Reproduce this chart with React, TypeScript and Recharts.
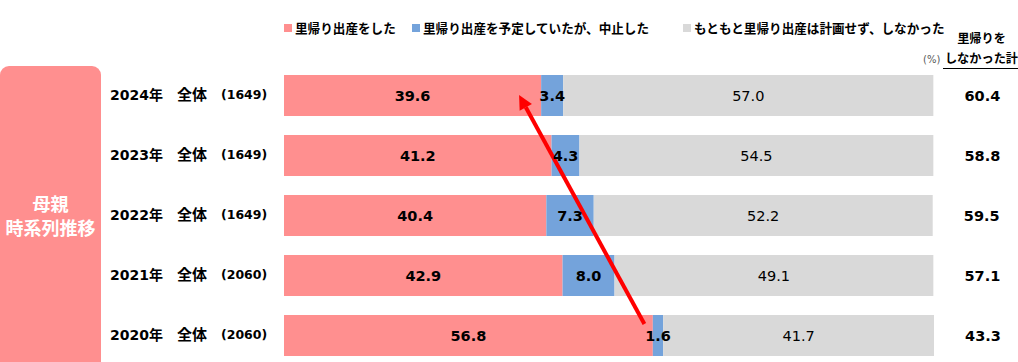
import React from 'react';
import { BarChart, Bar, XAxis, YAxis, LabelList, ReferenceLine } from 'recharts';

const years = ['2024年', '2023年', '2022年', '2021年', '2020年'];
const sampleSizes = ['1649', '1649', '1649', '2060', '2060'];
const didReturn = [39.6, 41.2, 40.4, 42.9, 56.8];
const plannedCancelled = [3.4, 4.3, 7.3, 8.0, 1.6];
const neverPlanned = [57.0, 54.5, 52.2, 49.1, 41.7];
const notReturnedTotal = [60.4, 58.8, 59.5, 57.1, 43.3];

const seriesNames = ['里帰り出産をした', '里帰り出産を予定していたが、中止した', 'もともと里帰り出産は計画せず、しなかった'];
const colors = ['#FF8F8F', '#74A3DB', '#D9D9D9'];

const data = years.map((y, i) => ({
  year: y,
  n: sampleSizes[i],
  a: didReturn[i],
  b: plannedCancelled[i],
  c: neverPlanned[i],
  total: notReturnedTotal[i],
}));

const FONT = '"DejaVu Sans", "Noto Sans CJK JP", sans-serif';
const JP = '"Noto Sans CJK JP", "DejaVu Sans", sans-serif';

const YTick = (props: any) => {
  const { y, payload, index } = props;
  const d = data[index] || data.find((r) => r.year === payload.value);
  return (
    <g>
      <text x={110} y={y} dy={5} fontFamily={FONT} fontWeight="bold" fontSize={14} fill="#000">
        {payload.value}
      </text>
      <text x={177} y={y} dy={5} fontFamily={JP} fontWeight="bold" fontSize={15} fill="#000">
        全体
      </text>
      <text x={221} y={y} dy={4} fontFamily={FONT} fontWeight="bold" fontSize={12.5} fill="#000">
        {`(${d ? d.n : ''})`}
      </text>
    </g>
  );
};

const centerLabel = (bold: boolean) => (props: any) => {
  const { x, y, width, height, value } = props;
  return (
    <text
      x={x + width / 2}
      y={y + height / 2}
      dy={5}
      textAnchor="middle"
      fontFamily={FONT}
      fontWeight={bold ? 'bold' : 'normal'}
      fontSize={14.5}
      fill="#000"
    >
      {Number(value).toFixed(1)}
    </text>
  );
};

const totalLabel = (props: any) => {
  const { x, y, width, height, index } = props;
  const v = data[index].total;
  return (
    <g>
      {centerLabel(false)(props)}
      <text
        x={x + width + 49}
        y={y + height / 2}
        dy={5}
        textAnchor="middle"
        fontFamily={FONT}
        fontWeight="bold"
        fontSize={14.5}
        fill="#000"
      >
        {v.toFixed(1)}
      </text>
    </g>
  );
};

const ArrowShape = (props: any) => {
  const { x1, y1, x2, y2 } = props;
  if ([x1, y1, x2, y2].some((v) => v === undefined || isNaN(v))) return null;
  const sy = y1 - 11;
  const dx = x2 - x1;
  const dy = y2 - sy;
  const len = Math.sqrt(dx * dx + dy * dy);
  const ux = dx / len;
  const uy = dy / len;
  const headLen = 14;
  const headW = 7;
  const bx = x2 - ux * headLen;
  const by = y2 - uy * headLen;
  const px = -uy;
  const py = ux;
  return (
    <g>
      <line x1={x1} y1={sy} x2={bx} y2={by} stroke="#FF0000" strokeWidth={4} />
      <polygon
        points={`${x2},${y2} ${bx + px * headW},${by + py * headW} ${bx - px * headW},${by - py * headW}`}
        fill="#FF0000"
      />
    </g>
  );
};

const legendX = [284, 412, 683];

export default function App() {
  return (
    <div style={{ position: 'absolute', left: 0, top: 0, width: 1018, height: 362, overflow: 'hidden', background: '#fff' }}>
      <div
        style={{
          position: 'absolute',
          left: 0,
          top: 66,
          width: 101,
          height: 320,
          background: '#FF8F8F',
          borderTopRightRadius: 9,
          borderTopLeftRadius: 9,
        }}
      />
      <div
        style={{
          position: 'absolute',
          left: 0,
          top: 191,
          width: 101,
          textAlign: 'center',
          color: '#fff',
          fontFamily: JP,
          fontWeight: 'bold',
          fontSize: 18,
          lineHeight: '24px',
          whiteSpace: 'nowrap',
        }}
      >
        母親
        <br />
        時系列推移
      </div>
      {seriesNames.map((name, i) => (
        <div
          key={name}
          style={{
            position: 'absolute',
            left: legendX[i],
            top: 18,
            display: 'flex',
            alignItems: 'center',
            whiteSpace: 'nowrap',
          }}
        >
          <span style={{ width: 8, height: 8, background: colors[i], display: 'inline-block', marginRight: 3 }} />
          <span style={{ fontFamily: JP, fontWeight: 'bold', fontSize: 12.6, color: '#000' }}>{name}</span>
        </div>
      ))}
      <div
        style={{
          position: 'absolute',
          left: 940,
          top: 28,
          width: 83,
          textAlign: 'center',
          fontFamily: JP,
          fontWeight: 'bold',
          fontSize: 12.2,
          lineHeight: '20px',
          color: '#000',
          whiteSpace: 'nowrap',
        }}
      >
        里帰りを
        <br />
        しなかった計
      </div>
      <div style={{ position: 'absolute', left: 943, top: 68, width: 75, height: 1, background: '#000' }} />
      <div
        style={{
          position: 'absolute',
          left: 923,
          top: 54,
          fontFamily: FONT,
          fontSize: 10,
          color: '#595959',
        }}
      >
        (%)
      </div>
      <div style={{ position: 'absolute', left: 0, top: 0 }}>
        <BarChart
          width={1018}
          height={370}
          data={data}
          layout="vertical"
          margin={{ top: 65, right: 84, bottom: 5, left: 0 }}
          barCategoryGap={19}
        >
          <XAxis type="number" domain={[0, 100]} hide />
          <YAxis
            type="category"
            dataKey="year"
            width={284}
            axisLine={false}
            tickLine={false}
            tick={<YTick />}
            interval={0}
          />
          <Bar dataKey="a" name={seriesNames[0]} stackId="s" fill={colors[0]} barSize={41} isAnimationActive={false}>
            <LabelList dataKey="a" content={centerLabel(true)} />
          </Bar>
          <Bar dataKey="b" name={seriesNames[1]} stackId="s" fill={colors[1]} barSize={41} isAnimationActive={false}>
            <LabelList dataKey="b" content={centerLabel(true)} />
          </Bar>
          <Bar dataKey="c" name={seriesNames[2]} stackId="s" fill={colors[2]} barSize={41} isAnimationActive={false}>
            <LabelList dataKey="c" content={totalLabel} />
          </Bar>
          <ReferenceLine
            segment={[
              { x: 55.5, y: '2020年' },
              { x: 36.2, y: '2024年' },
            ]}
            shape={<ArrowShape />}
            ifOverflow="visible"
          />
        </BarChart>
      </div>
    </div>
  );
}
